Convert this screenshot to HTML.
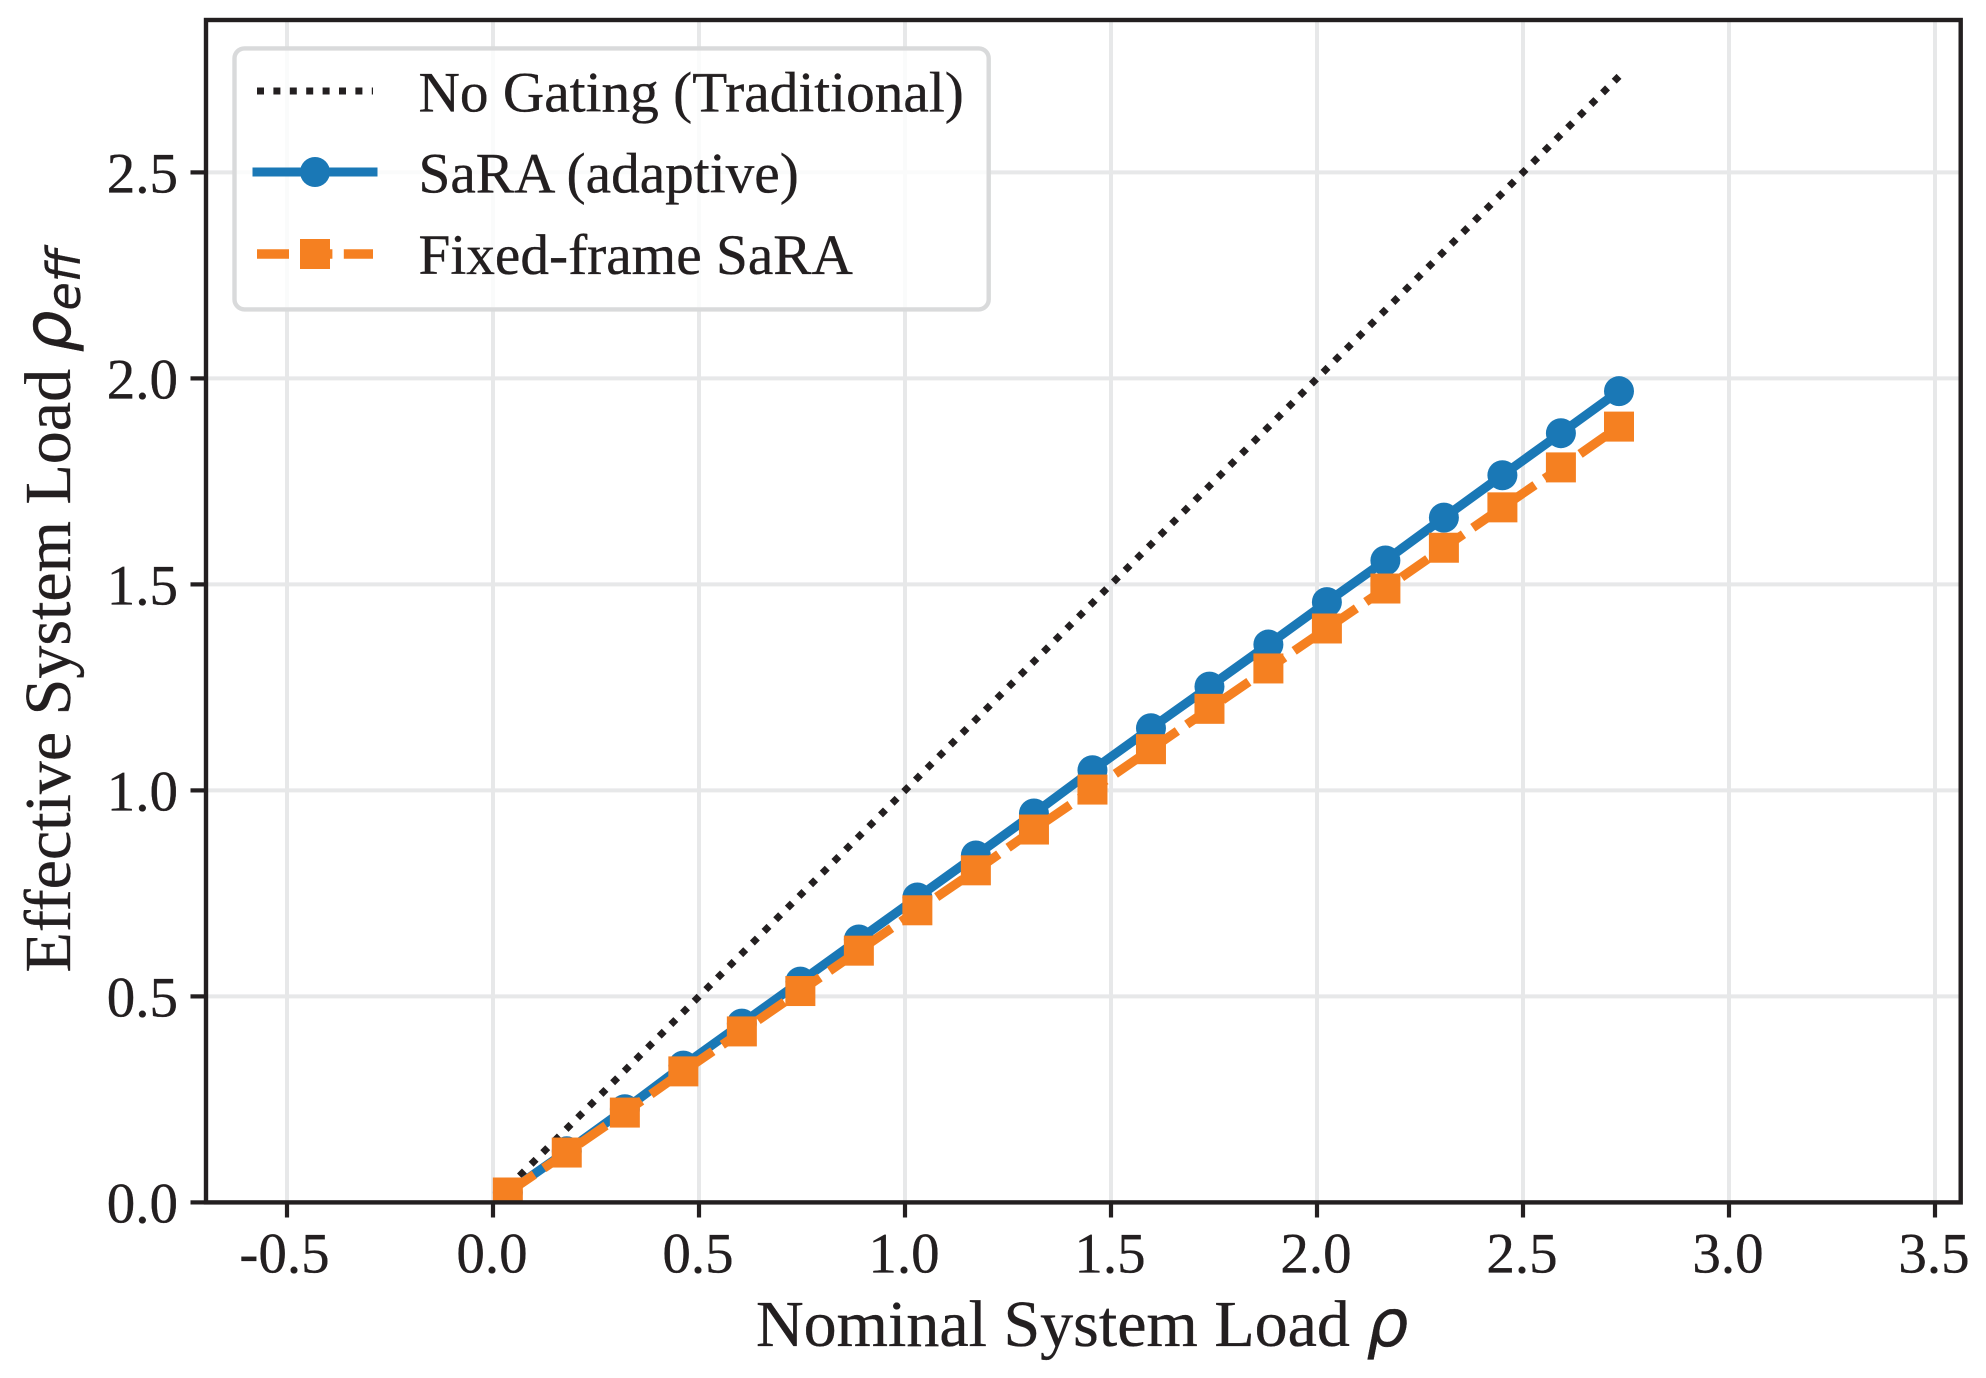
<!DOCTYPE html>
<html lang="en">
<head>
<meta charset="utf-8">
<title>Effective vs Nominal System Load</title>
<style>
html,body{margin:0;padding:0;background:#fff;}
body{width:1986px;height:1378px;overflow:hidden;}
svg{display:block;}
text{font-family:"Liberation Serif","Times New Roman",serif;fill:#231f20;stroke:#231f20;stroke-width:0.35px;}
tspan.math{font-family:"DejaVu Sans",sans-serif;font-style:italic;}
</style>
</head>
<body>
<svg id="chart" xmlns="http://www.w3.org/2000/svg" width="1986" height="1378" viewBox="0 0 1986 1378">
  <defs>
    <clipPath id="plot-clip"><rect x="206" y="20" width="1754.7" height="1182"></rect></clipPath>
  </defs>
  <rect x="0" y="0" width="1986" height="1378" fill="#ffffff"></rect>
  <g id="grid" clip-path="url(#plot-clip)"></g>
  <g id="series" clip-path="url(#plot-clip)"></g>
  <g id="ticks"></g>
  <rect x="206" y="20" width="1754.7" height="1182.4" fill="none" stroke="#231f20" stroke-width="4.4"></rect>

  <g>
    <rect x="234.5" y="48.4" width="754.2" height="261" rx="10" ry="10" fill="#ffffff" fill-opacity="0.8" stroke="#d9dadb" stroke-width="4.4"></rect>
    <g>
      <line x1="257" y1="91" x2="373" y2="91" stroke="#231f20" stroke-width="7" stroke-dasharray="7 9.4"></line>
      <text x="418.5" y="111.7" font-size="57.3">No Gating (Traditional)</text>
    </g>
    <g>
      <line x1="257" y1="172" x2="373" y2="172" stroke="#1a78b6" stroke-width="9" stroke-linecap="square"></line>
      <circle cx="315" cy="172" r="15" fill="#1a78b6"></circle>
      <text x="418.5" y="192.7" font-size="57.3">SaRA (adaptive)</text>
    </g>
    <g>
      <line x1="257" y1="254" x2="373" y2="254" stroke="#f58021" stroke-width="9.5" stroke-dasharray="32 11.4"></line>
      <rect x="300" y="239" width="30" height="30" fill="#f58021"></rect>
      <text x="418.5" y="274" font-size="57.3">Fixed-frame SaRA</text>
    </g>
  </g>

  <text x="756" y="1346" font-size="66">Nominal System Load <tspan class="math">ρ</tspan></text>
  <text transform="translate(70,972.5) rotate(-90)" font-size="66">Effective System Load <tspan class="math">ρ</tspan><tspan class="math" font-size="46" dy="10">eff</tspan></text>
</svg>
<script>
const nominalLoad = [0.036,0.179,0.320,0.462,0.604,0.746,0.888,1.030,1.172,1.313,1.455,1.597,1.739,1.882,2.024,2.166,2.308,2.450,2.592,2.733];
const noGatingLoad = [0.036,0.179,0.320,0.462,0.604,0.746,0.888,1.030,1.172,1.313,1.455,1.597,1.739,1.882,2.024,2.166,2.308,2.450,2.592,2.733];
const saraAdaptiveLoad = [0.024,0.124,0.226,0.332,0.434,0.536,0.638,0.740,0.842,0.944,1.049,1.151,1.252,1.354,1.457,1.558,1.662,1.765,1.867,1.969];
const fixedFrameLoad = [0.024,0.121,0.218,0.318,0.415,0.513,0.611,0.709,0.806,0.905,1.002,1.100,1.198,1.296,1.393,1.490,1.589,1.687,1.784,1.883];
const xTickValues = [-0.5,0,0.5,1,1.5,2,2.5,3,3.5];
const xTickLabels = ["-0.5","0.0","0.5","1.0","1.5","2.0","2.5","3.0","3.5"];
const yTickValues = [0,0.5,1,1.5,2,2.5];
const yTickLabels = ["0.0","0.5","1.0","1.5","2.0","2.5"];

const NS = "http://www.w3.org/2000/svg";
const scaleX = v => 493 + v * 412;
const scaleY = v => 1202.4 - v * 412;
const gridGroup = document.getElementById("grid");
const seriesGroup = document.getElementById("series");
const tickGroup = document.getElementById("ticks");

function make(tag, attrs, parent) {
  const el = document.createElementNS(NS, tag);
  for (const k in attrs) el.setAttribute(k, attrs[k]);
  parent.appendChild(el);
  return el;
}

xTickValues.forEach((v, i) => {
  const x = scaleX(v);
  const g = make("line", {x1:x, y1:20, x2:x, y2:1202, stroke:"#e7e8e9", "stroke-width":4}, gridGroup);
  
  
  const t = make("line", {x1:x, y1:1202, x2:x, y2:1217.5, stroke:"#231f20", "stroke-width":4.2}, tickGroup);
  
  
  const l = make("text", {x:x - (v < 0 ? 2.5 : 1), y:1272.7, "font-size":57, "text-anchor":"middle"}, tickGroup);
  
  
  l.textContent = xTickLabels[i];
});

yTickValues.forEach((v, i) => {
  const y = scaleY(v);
  const g = make("line", {x1:206, y1:y, x2:1960.7, y2:y, stroke:"#e7e8e9", "stroke-width":4}, gridGroup);
  
  
  const t = make("line", {x1:190.5, y1:y, x2:206, y2:y, stroke:"#231f20", "stroke-width":4.2}, tickGroup);
  
  
  const l = make("text", {x:178, y:y + 20, "font-size":57, "text-anchor":"end"}, tickGroup);
  
  
  l.textContent = yTickLabels[i];
});

function pointsOf(xs, ys) {
  return xs.map((x, i) => scaleX(x).toFixed(2) + "," + scaleY(ys[i]).toFixed(2)).join(" ");
}

const dotted = make("polyline", {points:pointsOf(nominalLoad, noGatingLoad), fill:"none", stroke:"#231f20", "stroke-width":7, "stroke-dasharray":"7 9.47"}, seriesGroup);



const blueLine = make("polyline", {points:pointsOf(nominalLoad, saraAdaptiveLoad), fill:"none", stroke:"#1a78b6", "stroke-width":9.2, "stroke-linejoin":"round"}, seriesGroup);



nominalLoad.forEach((x, i) => {
  const c = make("circle", {cx:scaleX(x), cy:scaleY(saraAdaptiveLoad[i]), r:15, fill:"#1a78b6"}, seriesGroup);
  
  
});

const orangeLine = make("polyline", {points:pointsOf(nominalLoad, fixedFrameLoad), fill:"none", stroke:"#f58021", "stroke-width":9.2, "stroke-dasharray":"32 11.4", "stroke-linejoin":"round"}, seriesGroup);



nominalLoad.forEach((x, i) => {
  const s = make("rect", {x:scaleX(x) - 15, y:scaleY(fixedFrameLoad[i]) - 15, width:30, height:30, fill:"#f58021"}, seriesGroup);
  
  
});
</script>
</body>
</html>
